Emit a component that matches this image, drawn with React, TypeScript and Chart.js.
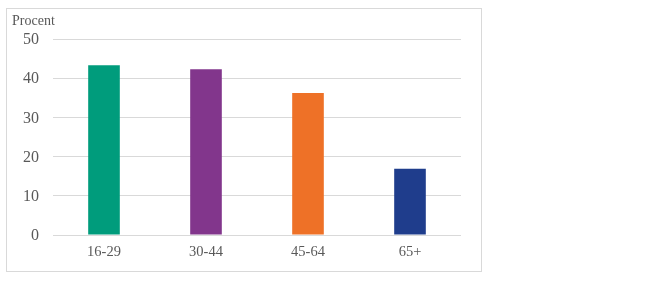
import React, { useEffect, useRef } from "react";
import { Chart, registerables } from "chart.js";

Chart.register(...registerables);

const categories = ["16-29", "30-44", "45-64", "65+"];
const values = [43.3, 42.3, 36.2, 16.9];
const barColors = ["#009C7C", "#82368C", "#EE7127", "#1F3D8C"];
const yTitle = "Procent";
const yMin = 0;
const yMax = 50;
const yStep = 10;

const FONT = "'Liberation Serif', 'Times New Roman', serif";
const TEXT = "#595959";

export default function App() {
  const ref = useRef<HTMLCanvasElement | null>(null);

  useEffect(() => {
    if (!ref.current) return;
    const titlePlugin = {
      id: "ytitle",
      afterDraw(chart: any) {
        const ctx = chart.ctx;
        ctx.save();
        ctx.font = `14px ${FONT}`;
        ctx.fillStyle = TEXT;
        ctx.textAlign = "left";
        ctx.textBaseline = "alphabetic";
        ctx.fillText(yTitle, 5, 16);
        ctx.restore();
      },
    };
    const chart = new Chart(ref.current, {
      type: "bar",
      data: {
        labels: categories,
        datasets: [
          {
            data: values,
            backgroundColor: barColors,
            borderWidth: 0,
            barPercentage: 0.31,
            categoryPercentage: 1,
          },
        ],
      },
      options: {
        animation: false,
        responsive: false,
        maintainAspectRatio: false,
        layout: { padding: { left: 0, right: 20, top: 30, bottom: 0 } },
        plugins: { legend: { display: false }, tooltip: { enabled: false } },
        scales: {
          x: {
            grid: { display: false, drawTicks: false },
            border: { display: false },
            ticks: {
              padding: 8,
              color: TEXT,
              font: { family: FONT, size: 14.5 },
              maxRotation: 0,
            },
            afterFit(scale: any) {
              scale.height = 36;
            },
          },
          y: {
            min: yMin,
            max: yMax,
            grid: { color: "#d9d9d9", drawTicks: false, lineWidth: 1 },
            border: { display: false },
            ticks: {
              stepSize: yStep,
              padding: 14,
              labelOffset: 1,
              color: TEXT,
              font: { family: FONT, size: 16 },
            },
            afterFit(scale: any) {
              scale.width = 46;
            },
          },
        },
      },
      plugins: [titlePlugin],
    });
    return () => chart.destroy();
  }, []);

  return (
    <div
      style={{
        position: "absolute",
        left: 6,
        top: 8,
        width: 476,
        height: 264,
        border: "1px solid #d9d9d9",
        boxSizing: "border-box",
        background: "#fff",
      }}
    >
      <canvas ref={ref} width={474} height={262} style={{ display: "block" }} />
    </div>
  );
}
